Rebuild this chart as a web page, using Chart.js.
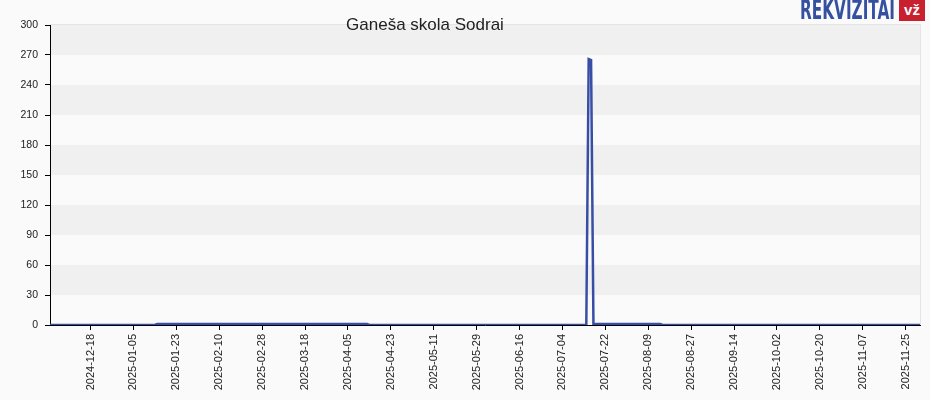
<!DOCTYPE html>
<html>
<head>
<meta charset="utf-8">
<script src="https://cdn.jsdelivr.net/npm/chart.js@4/dist/chart.umd.min.js"></script>
<style>
  html, body { margin: 0; padding: 0; background: #fafafa; }
  #wrap { position: relative; width: 930px; height: 400px; overflow: hidden; }
  canvas { position: absolute; left: 0; top: 0; }
  #title { position: absolute; left: 0; top: 15px; width: 850px; text-align: center;
           font: 17px "Liberation Sans", Arial, sans-serif; color: #222; line-height: 20px; }
  #logoText { position: absolute; left: 800px; top: -4px; display: inline-block;
              font: bold 26px "Liberation Sans Narrow", "DejaVu Sans Condensed", sans-serif;
              color: #3550a0; transform-origin: 0 0; white-space: nowrap; line-height: 28px; }
  #logoBox { position: absolute; left: 899px; top: 0px; width: 26px; height: 21px; background: #c8202f;
             color: #fff; font: bold 15px "Liberation Sans", Arial, sans-serif; text-align: center; line-height: 20px; }
</style>
</head>
<body>
<div id="wrap">
  <canvas id="c" width="930" height="400"></canvas>
  <div id="title">Ganeša skola Sodrai</div>
  <span id="logoText">REKVIZITAI</span><div id="logoBox">vž</div>
</div>
<script>
// fit logo text into its 95px slot
{
  const el = document.getElementById('logoText');
  const w = el.getBoundingClientRect().width;
  if (w > 0) el.style.transform = 'scaleX(' + (95 / w) + ')';
}

// ---- data (daily values) ----
const startDate = "2024-12-01";
const values = [
  0,0,0,0,0,0,0,0,0,0,0,0,0,0,0,0,0,0,0,0,
  0,0,0,0,0,0,0,0,0,0,0,0,0,0,0,0,0,0,0,0,
  0,0,0,0,0,
  1,1,1,1,1,1,1,1,1,1,1,1,1,1,1,1,1,1,1,1,
  1,1,1,1,1,1,1,1,1,1,1,1,1,1,1,1,1,1,1,1,
  1,1,1,1,1,1,1,1,1,1,1,1,1,1,1,1,1,1,1,1,
  1,1,1,1,1,1,1,1,1,1,1,1,1,1,1,1,1,1,1,1,
  1,1,1,1,1,1,1,1,1,
  0,0,0,0,0,0,0,0,0,0,0,0,0,0,0,0,0,0,0,0,
  0,0,0,0,0,0,0,0,0,0,0,0,0,0,0,0,0,0,0,0,
  0,0,0,0,0,0,0,0,0,0,0,0,0,0,0,0,0,0,0,0,
  0,0,0,0,0,0,0,0,0,0,0,0,0,0,0,0,0,0,0,0,
  0,0,0,0,0,0,0,0,0,0,0,0,
  266,265,0,
  1,1,1,1,1,1,1,1,1,1,1,1,1,1,1,1,1,1,1,1,
  1,1,1,1,1,1,1,1,
  0,0,0,0,0,0,0,0,0,0,0,0,0,0,0,0,0,0,0,0,
  0,0,0,0,0,0,0,0,0,0,0,0,0,0,0,0,0,0,0,0,
  0,0,0,0,0,0,0,0,0,0,0,0,0,0,0,0,0,0,0,0,
  0,0,0,0,0,0,0,0,0,0,0,0,0,0,0,0,0,0,0,0,
  0,0,0,0,0,0,0,0,0,0,0,0,0,0,0,0,0,0,0,0,
  0,0,0,0,0,0,0,0,0
];
const tickLabels = [
  "2024-12-18","2025-01-05","2025-01-23","2025-02-10","2025-02-28","2025-03-18",
  "2025-04-05","2025-04-23","2025-05-11","2025-05-29","2025-06-16","2025-07-04",
  "2025-07-22","2025-08-09","2025-08-27","2025-09-14","2025-10-02","2025-10-20",
  "2025-11-07","2025-11-25"
];
const yTicks = [0,30,60,90,120,150,180,210,240,270,300];

// category labels: one per day
const categories = [];
{
  const d0 = new Date(startDate + "T00:00:00Z");
  for (let i = 0; i < values.length; i++) {
    const d = new Date(d0.getTime() + i * 86400000);
    categories.push(d.toISOString().slice(0, 10));
  }
}

const bandPlugin = {
  id: 'bands',
  beforeDraw(chart) {
    const { ctx, chartArea: a, scales: { y } } = chart;
    ctx.save();
    ctx.fillStyle = '#fafafa';
    ctx.fillRect(0, 0, chart.width, chart.height);
    for (let k = 0; k < yTicks.length - 1; k++) {
      if (k % 2 === 1) {
        const yTop = y.getPixelForValue(yTicks[k + 1]);
        const yBot = y.getPixelForValue(yTicks[k]);
        ctx.fillStyle = '#f0f0f0';
        ctx.fillRect(a.left, yTop, a.right - a.left, yBot - yTop);
      }
    }
    ctx.strokeStyle = '#e4e4e4';
    ctx.lineWidth = 1;
    ctx.beginPath();
    ctx.moveTo(a.left, a.top - 0.5);
    ctx.lineTo(a.right + 0.5, a.top - 0.5);
    ctx.lineTo(a.right + 0.5, a.bottom);
    ctx.stroke();
    ctx.restore();
  }
};

new Chart(document.getElementById('c'), {
  type: 'line',
  data: {
    labels: categories,
    datasets: [{
      data: values,
      borderColor: 'rgb(56,78,165)',
      borderWidth: 2.5,
      pointRadius: 0,
      tension: 0,
      fill: false
    }]
  },
  options: {
    responsive: false,
    animation: false,
    devicePixelRatio: 1,
    layout: { padding: { top: 25, right: 10, left: 0, bottom: 0 }, autoPadding: false },
    plugins: { legend: { display: false }, title: { display: false }, tooltip: { enabled: false } },
    scales: {
      x: {
        type: 'category',
        offset: false,
        afterBuildTicks(scale) {
          scale.ticks = scale.ticks.filter(t => tickLabels.includes(categories[t.value]));
        },
        afterFit(scale) { scale.height = 75; },
        ticks: {
          autoSkip: false, maxRotation: 90, minRotation: 90,
          font: { family: '"Liberation Sans", Arial, sans-serif', size: 11 },
          color: '#222', padding: 4
        },
        grid: { drawOnChartArea: false, drawTicks: true, tickLength: 5, color: '#000' },
        border: { display: true, color: '#000' }
      },
      y: {
        min: 0, max: 300,
        afterBuildTicks(scale) { scale.ticks = yTicks.map(v => ({ value: v })); },
        afterFit(scale) { scale.width = 50; },
        ticks: {
          font: { family: '"Liberation Sans", Arial, sans-serif', size: 10.5 },
          color: '#222', padding: 7
        },
        grid: { drawOnChartArea: false, drawTicks: true, tickLength: 5, color: '#000' },
        border: { display: true, color: '#000' }
      }
    }
  },
  plugins: [bandPlugin]
});
</script>
</body>
</html>
